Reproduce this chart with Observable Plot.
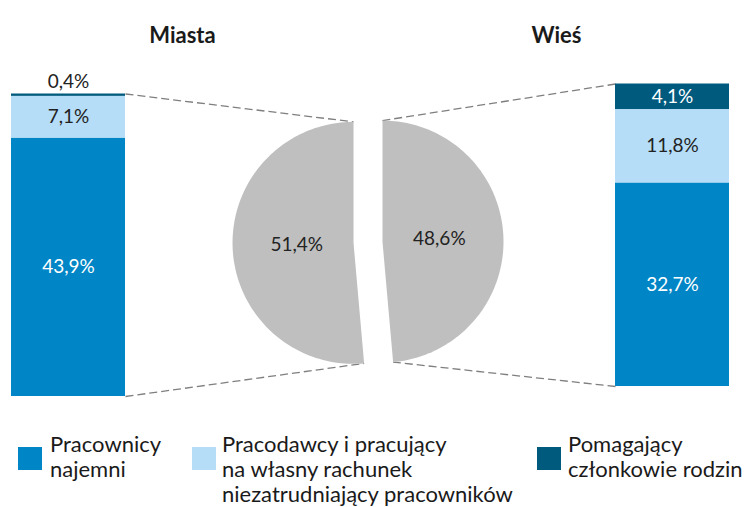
<!DOCTYPE html>
<html><head><meta charset="utf-8">
<script src="https://cdn.jsdelivr.net/npm/d3@7"></script>
<script src="https://cdn.jsdelivr.net/npm/@observablehq/plot@0.6"></script>
<style>
body{margin:0;background:#fff;font-family:Lato,sans-serif;}
#wrap{position:relative;width:744px;height:507px;overflow:hidden;}
.sw{position:absolute;width:24px;height:23px;top:447px;}
.lt{position:absolute;top:431px;font-size:22px;line-height:25px;color:#1a1a1a;white-space:nowrap;}
</style></head><body><div id="wrap"></div>
<script>
// ---- data ----
const groups = ["Miasta", "Wieś"];
const categories = [
  "Pracownicy najemni",
  "Pracodawcy i pracujący na własny rachunek niezatrudniający pracowników",
  "Pomagający członkowie rodzin"
];
const legendLines = [
  ["Pracownicy", "najemni"],
  ["Pracodawcy i pracujący", "na własny rachunek", "niezatrudniający pracowników"],
  ["Pomagający", "członkowie rodzin"]
];
const miastaValues = [43.9, 7.1, 0.4];
const wiesValues = [32.7, 11.8, 4.1];
const pieValues = [51.4, 48.6];
const colors = ["#0086C6", "#B5DDF7", "#005A7E"];

// ---- layout ----
const pxU = 302.5;              // pixels per stacked-bar unit
const BAR = {
  "Miasta": {x1: 11, x2: 125, dy: 0},
  "Wieś": {x1: 615, x2: 729, dy: -10}
};
const TITLE_X = {"Miasta": 182, "Wieś": 556};
const PIE = {cx: 367.5, cy: 0.51, r: 121, explode: 14.5, labelR: 0.47};
const LEG = [{sx: 18, tx: 50}, {sx: 192, tx: 222}, {sx: 537, tx: 568}];

const fmt = v => d3.format(".1f")(v).replace(".", ",") + "%";

const barRows = [];
groups.forEach((g, gi) => {
  const vals = gi === 0 ? miastaValues : wiesValues;
  categories.forEach((c, ci) => barRows.push({group: g, category: c, value: vals[ci]}));
});

const barMarks = groups.flatMap(g => {
  const rows = barRows.filter(d => d.group === g);
  const B = BAR[g];
  const total = d3.sum(rows, d => d.value);
  const inside = d => d.value / total >= 0.02;
  return [
    Plot.rectY(rows, {x1: () => B.x1, x2: () => B.x2, y: "value", z: "category", fill: "category", offset: "normalize", dy: B.dy}),
    Plot.text(rows, Plot.stackY({
      x: () => (B.x1 + B.x2) / 2, y: "value", z: "category", offset: "normalize",
      text: d => inside(d) ? fmt(d.value) : "",
      fill: d => d.category === categories[1] ? "#222222" : "#ffffff",
      fontSize: 19, dy: B.dy
    })),
    Plot.text(rows.filter(d => !inside(d)), {
      x: () => (B.x1 + B.x2) / 2, y: () => 1, text: d => fmt(d.value),
      fill: "#222222", fontSize: 19, dy: B.dy - 12
    })
  ];
});

// ---- pie ----
const pieRows = groups.map((g, i) => ({group: g, value: pieValues[i]}));
const pieTotal = d3.sum(pieValues);
const a0 = -2 * Math.PI * pieValues[0] / pieTotal;
const arcs = d3.pie().sort(null).value(d => d.value).startAngle(a0).endAngle(a0 + 2 * Math.PI)(pieRows);
function piePt(arc, a, rr = PIE.r) {
  const mid = (arc.startAngle + arc.endAngle) / 2;
  const ox = PIE.explode * Math.sin(mid), oy = PIE.explode * Math.cos(mid);
  return {x: PIE.cx + ox + rr * Math.sin(a), y: PIE.cy + (oy + rr * Math.cos(a)) / pxU};
}
const piePts = [];
arcs.forEach(arc => {
  const g = arc.data.group;
  piePts.push({group: g, ...piePt(arc, arc.startAngle, 0)});
  const N = 120;
  for (let i = 0; i <= N; i++) {
    const a = arc.startAngle + (arc.endAngle - arc.startAngle) * i / N;
    piePts.push({group: g, ...piePt(arc, a)});
  }
  piePts.push({group: g, ...piePt(arc, arc.startAngle, 0)});
});
const pieLabels = arcs.map(arc => ({text: fmt(arc.data.value), ...piePt(arc, (arc.startAngle + arc.endAngle) / 2, PIE.labelR * PIE.r)}));

const [arcM, arcW] = arcs;
const conn = [
  {p: BAR["Miasta"].x2, yb: 1 - BAR["Miasta"].dy / pxU, q: piePt(arcM, arcM.endAngle)},
  {p: BAR["Miasta"].x2, yb: 0 - BAR["Miasta"].dy / pxU, q: piePt(arcM, arcM.startAngle)},
  {p: BAR["Wieś"].x1, yb: 1 - BAR["Wieś"].dy / pxU, q: piePt(arcW, arcW.startAngle)},
  {p: BAR["Wieś"].x1, yb: 0 - BAR["Wieś"].dy / pxU, q: piePt(arcW, arcW.endAngle)}
];

const chart = Plot.plot({
  width: 744, height: 507, margin: 0,
  style: {fontFamily: "Lato, sans-serif", fontSize: "19px", color: "#222222", background: "#fff"},
  x: {domain: [0, 744], range: [0, 744], axis: null},
  y: {domain: [0, 1], range: [396, 396 - pxU], axis: null},
  color: {domain: categories, range: colors},
  marks: [
    Plot.link(conn, {x1: d => d.p, y1: d => d.yb, x2: d => d.q.x, y2: d => d.q.y,
      stroke: "#7f7f7f", strokeWidth: 1.3, strokeDasharray: "8,4"}),
    Plot.line(piePts, {x: "x", y: "y", z: "group", fill: "#bfbfbf", stroke: "none"}),
    Plot.text(pieLabels, {x: "x", y: "y", text: "text", fill: "#222222", fontSize: 19}),
    ...barMarks,
    Plot.text(groups, {x: d => TITLE_X[d], frameAnchor: "top", dy: 27, text: d => d,
      fontWeight: "bold", fontSize: 22, fill: "#1a1a1a"})
  ]
});

const wrap = document.getElementById("wrap");
wrap.appendChild(chart);
categories.forEach((c, i) => {
  const sw = document.createElement("div");
  sw.className = "sw";
  sw.style.left = LEG[i].sx + "px";
  sw.style.background = colors[i];
  wrap.appendChild(sw);
  const t = document.createElement("div");
  t.className = "lt";
  t.style.left = LEG[i].tx + "px";
  t.innerHTML = legendLines[i].join("<br>");
  wrap.appendChild(t);
});
chart.style.position = "absolute";
chart.style.left = "0";
chart.style.top = "0";
</script></body></html>
